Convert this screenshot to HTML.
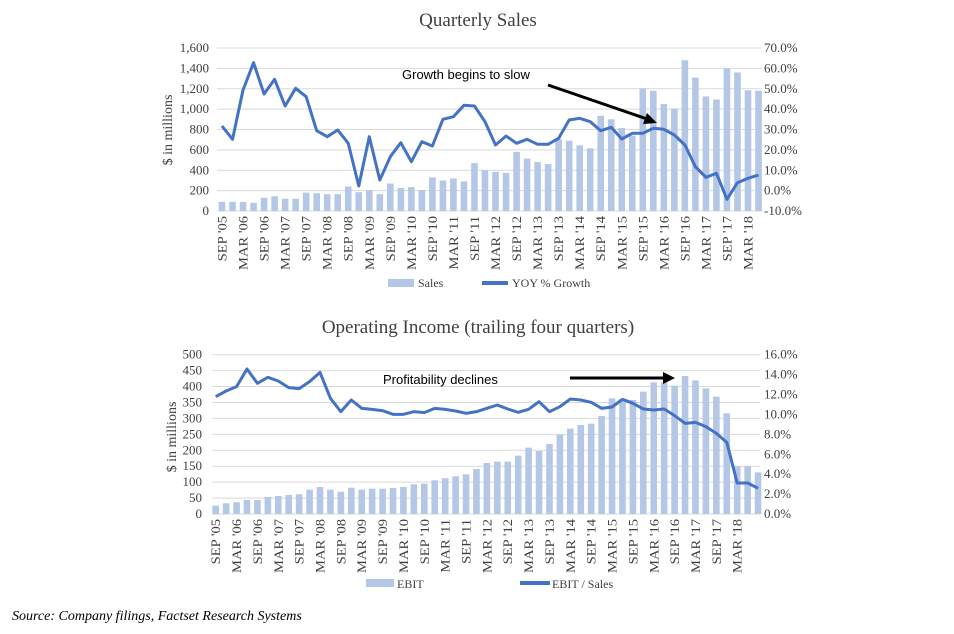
<!DOCTYPE html>
<html><head><meta charset="utf-8"><style>
html,body{margin:0;padding:0;background:#fff;width:954px;height:634px;overflow:hidden}
svg{display:block}
text{font-family:"Liberation Serif",serif;fill:#404040}
.s{font-family:"Liberation Sans",sans-serif;fill:#000}
</style></head><body>
<svg id="c" width="954" height="634" xmlns="http://www.w3.org/2000/svg"></svg>
<script>
const svg=document.getElementById('c');let h='';
const bc='#b4c7e7',lc='#4472c4';
h+='<text x="478" y="26" text-anchor="middle" font-size="19">Quarterly Sales</text>';
h+='<text x="478" y="333" text-anchor="middle" font-size="19">Operating Income (trailing four quarters)</text>';
for(let k=0;k<=8;k++){const y=211-k*20.375;h+=`<line x1="217" x2="762" y1="${y}" y2="${y}" stroke="#d9d9d9"/>`;
h+=`<text x="209" y="${y+4}" text-anchor="end" font-size="13">${(k*200).toLocaleString('en-US')}</text>`;
h+=`<text x="764" y="${y+4}" font-size="13">${(k*10-10).toFixed(1)}%</text>`;}
const tb=[90,90,90,80,130,145,120,120,180,175,165,165,240,185,205,165,270,225,235,205,330,300,320,290,470,400,385,375,580,515,480,460,705,690,645,615,935,900,815,740,1205,1180,1050,1005,1480,1310,1125,1095,1400,1360,1185,1180];
const tx=i=>222+i*10.52;
tb.forEach((v,i)=>{const hh=v*0.10187;h+=`<rect x="${tx(i)-3.3}" y="${211-hh}" width="6.6" height="${hh}" fill="${bc}"/>`});
const tl=[126,139.3,90,62.7,94,79.3,106,88.3,96.7,130.7,136.7,130,143.3,186,136.7,180,156.7,142.7,161.7,141.7,146,119.3,116.7,105.3,106,121.7,145,136,143.3,139.3,144.3,144.3,138.3,120,118.3,121.7,130.7,127.3,139,133.3,133.3,128.3,129.3,135,145,166.7,177.3,173.3,199.3,182.7,178.3,175];
h+=`<polyline fill="none" stroke="${lc}" stroke-width="3" stroke-linejoin="round" points="${tl.map((y,i)=>tx(i)+','+y).join(' ')}"/>`;
const labs=[];for(let y=5;y<18;y++){labs.push("SEP '"+String(y).padStart(2,'0'));labs.push("MAR '"+String(y+1).padStart(2,'0'));}
labs.forEach((t,j)=>{const x=tx(j*2)+4.5;h+=`<text transform="translate(${x},216) rotate(-90) scale(1.12,1)" text-anchor="end" font-size="13">${t}</text>`});
h+='<text transform="translate(172,130) rotate(-90)" text-anchor="middle" font-size="14">$ in millions</text>';
h+='<text transform="translate(176,437) rotate(-90)" text-anchor="middle" font-size="14">$ in millions</text>';
h+=`<rect x="388" y="279" width="26" height="8" fill="${bc}"/><text x="418" y="287" font-size="12">Sales</text>`;
h+=`<line x1="482" x2="508" y1="283" y2="283" stroke="${lc}" stroke-width="4"/><text x="512" y="287" font-size="12">YOY % Growth</text>`;
h+='<text class="s" x="402" y="79" font-size="13">Growth begins to slow</text>';
h+='<line x1="548" y1="85" x2="647" y2="119" stroke="#000" stroke-width="3"/><polygon points="657,123 643,124 647,113" fill="#000"/>';
for(let k=0;k<=10;k++){const y=514-k*15.93;h+=`<line x1="212" x2="760" y1="${y}" y2="${y}" stroke="#d9d9d9"/>`;
h+=`<text x="202" y="${y+4}" text-anchor="end" font-size="13">${k*50}</text>`;}
for(let k=0;k<=8;k++){const y=514-k*19.91;h+=`<text x="764" y="${y+4}" font-size="13">${(k*2).toFixed(1)}%</text>`}
const bb=[505.7,503.3,502.3,500,500,497,496,495,494.3,489.7,487,489.7,491.7,487.7,489.7,488.7,488.7,488,487,484.3,483.7,480.3,478.3,476.3,388,372,354,350,350,332,308,318,297,269,251,240,236,213,160,162,165,140,112,112,122,93,106,130,155,205,364,364,382];
const bx=i=>215.7+i*10.43;
bb.forEach((y,i)=>{const yy=i<24?y:345+y/3;h+=`<rect x="${bx(i)-3.3}" y="${yy}" width="6.6" height="${514-yy}" fill="${bc}"/>`});
const bl1=[155,138,125,72,115,97,108,128,131,110,82,160,200,165,190,193,197,208,208,200,203,190,193,198];
const bl2=[205,200,190,180,192,202,193,170,200,185,162,165,172,190,186,163,175,192,195,192,212,235,232,245,265,292,414,414,430];
const bl=bl1.concat(bl2).map(z=>345+z/3);
h+=`<polyline fill="none" stroke="${lc}" stroke-width="3" stroke-linejoin="round" points="${bl.map((y,i)=>bx(i)+','+y).join(' ')}"/>`;
labs.forEach((t,j)=>{const x=bx(j*2)+4.5;h+=`<text transform="translate(${x},519) rotate(-90) scale(1.12,1)" text-anchor="end" font-size="13">${t}</text>`});
h+=`<rect x="366" y="579" width="28" height="8" fill="${bc}"/><text x="397" y="588" font-size="12">EBIT</text>`;
h+=`<line x1="520" x2="550" y1="583" y2="583" stroke="${lc}" stroke-width="4"/><text x="552" y="588" font-size="12">EBIT / Sales</text>`;
h+='<text class="s" x="383" y="384" font-size="13">Profitability declines</text>';
h+='<line x1="570" y1="378" x2="664" y2="378" stroke="#000" stroke-width="3"/><polygon points="675,378 663,372 663,384" fill="#000"/>';
h+='<text x="12" y="620" font-size="14" font-style="italic" style="fill:#000">Source: Company filings, Factset Research Systems</text>';
svg.innerHTML=h;
</script>
</body></html>
